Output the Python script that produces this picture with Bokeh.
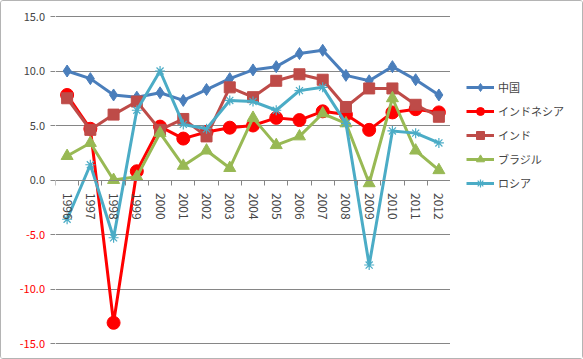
import math
from bokeh.plotting import figure
from bokeh.layouts import row
from bokeh.models import (LinearAxis, FixedTicker, NumeralTickFormatter, Range1d,
                          Legend, LegendItem)
from bokeh.embed import file_html
from bokeh.resources import INLINE

years = list(range(1996, 2013))
china = [10.0, 9.3, 7.8, 7.6, 8.0, 7.3, 8.3, 9.3, 10.1, 10.4, 11.6, 11.9, 9.6, 9.1, 10.4, 9.2, 7.8]
indonesia = [7.8, 4.7, -13.1, 0.8, 4.9, 3.8, 4.4, 4.8, 5.0, 5.7, 5.5, 6.3, 6.0, 4.6, 6.2, 6.5, 6.2]
india = [7.5, 4.6, 6.0, 7.2, 4.6, 5.6, 4.0, 8.5, 7.6, 9.1, 9.7, 9.2, 6.7, 8.4, 8.4, 6.9, 5.8]
brazil = [2.2, 3.4, 0.0, 0.3, 4.3, 1.3, 2.7, 1.1, 5.7, 3.2, 4.0, 6.1, 5.2, -0.3, 7.5, 2.7, 0.9]
russia = [-3.6, 1.4, -5.3, 6.4, 10.0, 5.1, 4.7, 7.3, 7.2, 6.4, 8.2, 8.5, 5.2, -7.8, 4.5, 4.3, 3.4]
series_names = ["中国", "インドネシア", "インド", "ブラジル", "ロシア"]
y_ticks_pos = [0, 5, 10, 15]
y_ticks_neg = [-15, -10, -5]

FONT = "Noto Sans CJK JP"
H = 357
TOP = 15
BOT = 15
PLOT_H = H - TOP - BOT
Y0, Y1 = -15, 15
pad = (Y1 - Y0) / PLOT_H * TOP
yr = Range1d(Y0 - pad, Y1 + pad)

# ---------------- main plot ----------------
p = figure(width=395, height=H, output_backend="svg", toolbar_location=None,
           x_range=Range1d(1995.5, 2012.5), y_range=yr,
           x_axis_location=None, y_axis_location=None,
           min_border_left=0, min_border_right=0, min_border_top=0, min_border_bottom=0)
p.outline_line_color = None

p.ygrid.ticker = FixedTicker(ticks=y_ticks_pos + y_ticks_neg)
p.ygrid.grid_line_color = "#868686"
p.xgrid.grid_line_color = None

xb = LinearAxis(ticker=FixedTicker(ticks=[y - 0.5 for y in years] + [2012.5]))
xb.fixed_location = 0
xb.axis_line_color = "#868686"
xb.major_tick_line_color = "#868686"
xb.major_tick_out = 5
xb.major_tick_in = 0
xb.minor_tick_line_color = None
xb.major_label_overrides = {y - 0.5: "" for y in years + [2013]}
p.add_layout(xb, "below")

xl = LinearAxis(ticker=FixedTicker(ticks=years))
xl.fixed_location = 0
xl.axis_line_color = None
xl.major_tick_line_color = None
xl.major_tick_out = 0
xl.major_tick_in = 0
xl.minor_tick_line_color = None
xl.major_label_orientation = -math.pi / 2
xl.major_label_text_font = FONT
xl.major_label_text_font_size = "12px"
xl.major_label_standoff = 13
p.add_layout(xl, "below")

# ---------------- y-axis panel ----------------
yp = figure(width=54, height=H, output_backend="svg", toolbar_location=None,
            x_range=Range1d(0, 54), y_range=yr,
            x_axis_location=None, y_axis_location=None,
            min_border_left=0, min_border_right=0, min_border_top=0, min_border_bottom=0)
yp.outline_line_color = None
yp.xgrid.grid_line_color = None
yp.ygrid.grid_line_color = None

ya = LinearAxis(ticker=FixedTicker(ticks=y_ticks_pos + y_ticks_neg),
                formatter=NumeralTickFormatter(format="0.0"))
ya.fixed_location = 53.5
ya.bounds = (Y0, Y1)
ya.axis_line_color = "#868686"
ya.major_tick_line_color = "#868686"
ya.major_tick_out = 5
ya.major_tick_in = 0
ya.minor_tick_line_color = None
ya.major_label_text_font = FONT
ya.major_label_text_font_size = "11px"
ya.major_label_overrides = {-15: "", -10: "", -5: ""}
ya.major_label_standoff = 5
yp.add_layout(ya, "left")

yb = LinearAxis(ticker=FixedTicker(ticks=y_ticks_neg),
                formatter=NumeralTickFormatter(format="0.0"))
yb.fixed_location = 53.5
yb.axis_line_color = None
yb.major_tick_line_color = None
yb.major_tick_out = 5
yb.major_tick_in = 0
yb.minor_tick_line_color = None
yb.major_label_text_font = FONT
yb.major_label_text_font_size = "11px"
yb.major_label_text_color = "#FF0000"
yb.major_label_standoff = 5
yp.add_layout(yb, "left")

# ---------------- legend panel ----------------
lp = figure(width=132, height=H, output_backend="svg", toolbar_location=None,
            x_range=Range1d(0, 1), y_range=Range1d(0, 1),
            x_axis_location=None, y_axis_location=None,
            min_border_left=0, min_border_right=0, min_border_top=0, min_border_bottom=0)
lp.outline_line_color = None
lp.xgrid.grid_line_color = None
lp.ygrid.grid_line_color = None

styles = [
    (china, "#4A7EBB", "diamond", 12),
    (indonesia, "#FF0000", "circle", 13),
    (india, "#BE4B48", "square", 11),
    (brazil, "#98B954", "triangle", 12),
    (russia, "#4BACC6", "asterisk", 10),
]
items = []
for name, (vals, col, mk, sz) in zip(series_names, styles):
    p.line(years, vals, line_color=col, line_width=3)
    if mk == "asterisk":
        p.scatter(years, vals, marker=mk, size=sz, line_color=col, line_width=1.2)
    else:
        p.scatter(years, vals, marker=mk, size=sz, fill_color=col, line_color=col)
    r1 = lp.line(years, vals, line_color=col, line_width=3)
    if mk == "asterisk":
        r2 = lp.scatter(years, vals, marker=mk, size=sz, line_color=col, line_width=1.2)
    else:
        r2 = lp.scatter(years, vals, marker=mk, size=sz, fill_color=col, line_color=col)
    items.append(LegendItem(label=name, renderers=[r1, r2]))

legend = Legend(items=items, location=(16, 165))
legend.border_line_color = None
legend.background_fill_alpha = 0
legend.label_text_font = FONT
legend.label_text_font_size = "11px"
legend.glyph_width = 28
legend.glyph_height = 20
legend.label_height = 20
legend.spacing = 4
legend.padding = 0
legend.margin = 0
legend.label_standoff = 4
lp.add_layout(legend, "center")

layout = row(yp, p, lp, styles={"border": "1px solid #b4b4b4", "border-radius": "3px"})

open("out.html", "w").write(file_html(layout, INLINE))
